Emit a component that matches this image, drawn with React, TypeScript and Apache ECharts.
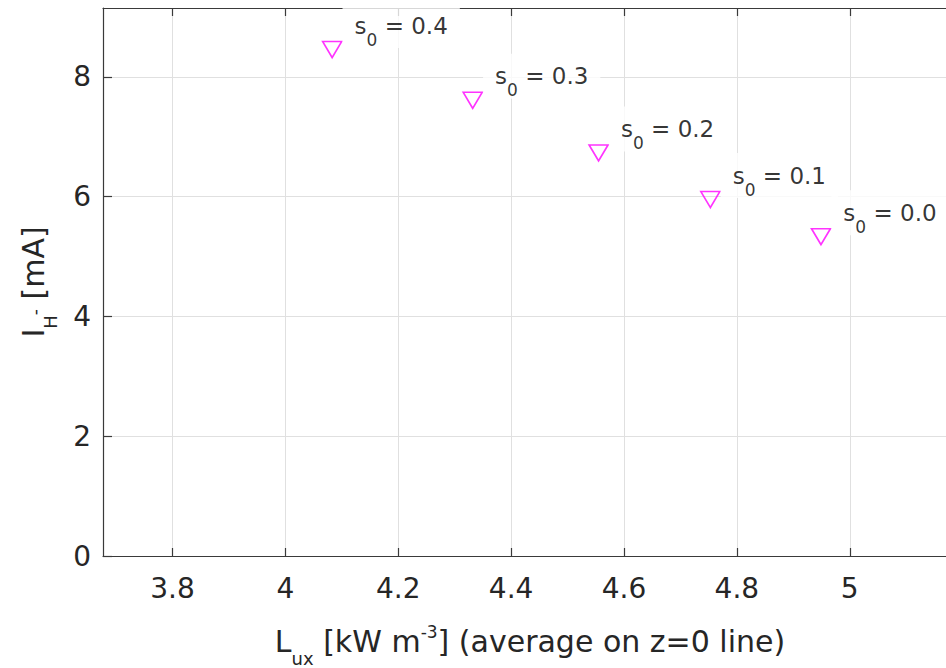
import React, { useEffect, useRef } from "react";
import * as echarts from "echarts";

const xValues = [4.083, 4.332, 4.555, 4.753, 4.949];
const yValues = [8.456, 7.608, 6.73, 5.952, 5.332];
const pointLabels = ["0.4", "0.3", "0.2", "0.1", "0.0"];
const xTicks = [3.8, 4, 4.2, 4.4, 4.6, 4.8, 5];
const yTicks = [0, 2, 4, 6, 8];
const X_MIN = 3.677;
const X_MAX = 5.19;
const Y_MIN = 0;
const Y_MAX = 9.15;

const FONT = "DejaVu Sans";
const TXT = "#262626";

export default function App() {
  const ref = useRef<HTMLDivElement>(null);
  useEffect(() => {
    document.body.style.margin = "0";
    document.body.style.overflow = "hidden";
    const chart = echarts.init(ref.current!, null, { renderer: "svg" });
    const data = xValues.map((x, i) => [x, yValues[i], pointLabels[i]]);
    const labelRich = {
      s: { fontSize: 23, fontFamily: FONT, color: "#000" },
      sub: { fontSize: 17, fontFamily: FONT, color: "#000", padding: [28, 0, 0, 0] },
    };
    const axisLineStyle = { color: "#3a3a3a", width: 1.2 };
    const option: any = {
      animation: false,
      backgroundColor: "#fff",
      grid: {
        left: 103,
        top: 8,
        bottom: 112,
        right: -11,
        containLabel: false,
        outerBoundsMode: "none",
      },
      xAxis: [
        {
          type: "value",
          min: X_MIN,
          max: X_MAX,
          position: "bottom",
          axisLine: { show: true, onZero: false, lineStyle: axisLineStyle },
          axisTick: { show: true, inside: true, length: 8, customValues: xTicks, lineStyle: axisLineStyle },
          axisLabel: {
            customValues: xTicks,
            fontFamily: FONT,
            fontSize: 28,
            color: TXT,
            margin: 18,
          },
          splitLine: { show: true, lineStyle: { color: "#e0e0e0", width: 1 } },
          name: "{m|L}{sub|ux}{m| [kW m}{sup|-3}{m|] (average on z=0 line)}",
          nameLocation: "middle",
          nameGap: 59,
          nameTextStyle: {
            rich: {
              m: { fontSize: 30, fontFamily: FONT, color: TXT },
              sub: { fontSize: 18, fontFamily: FONT, color: TXT, padding: [34, 0, 0, 0] },
              sup: { fontSize: 17, fontFamily: FONT, color: TXT, padding: [0, 0, 18, 0] },
            },
          },
        },
        {
          type: "value",
          min: X_MIN,
          max: X_MAX,
          position: "top",
          axisLine: { show: true, onZero: false, lineStyle: axisLineStyle },
          axisTick: { show: true, inside: true, length: 8, customValues: xTicks, lineStyle: axisLineStyle },
          axisLabel: { show: false },
          splitLine: { show: false },
        },
      ],
      yAxis: {
        type: "value",
        min: Y_MIN,
        max: Y_MAX,
        axisLine: { show: true, onZero: false, lineStyle: axisLineStyle },
        axisTick: { show: true, inside: true, length: 9, customValues: yTicks, lineStyle: axisLineStyle },
        axisLabel: {
          customValues: yTicks,
          fontFamily: FONT,
          fontSize: 28,
          color: TXT,
          margin: 12,
        },
        splitLine: { show: true, lineStyle: { color: "#e0e0e0", width: 1 } },
        name: "{m|I}{sub|H}{sup|-}{m| [mA]}",
        nameLocation: "middle",
        nameRotate: 90,
        nameGap: 44,
        nameTextStyle: {
          rich: {
            m: { fontSize: 30, fontFamily: FONT, color: TXT },
            sub: { fontSize: 18, fontFamily: FONT, color: TXT, padding: [34, 0, 0, 0] },
            sup: { fontSize: 17, fontFamily: FONT, color: TXT, padding: [3, 0, 0, 0] },
          },
        },
      },
      series: [
        {
          type: "scatter",
          xAxisIndex: 0,
          data,
          symbol: "triangle",
          symbolRotate: 180,
          symbolSize: [19, 16],
          itemStyle: { color: "rgba(0,0,0,0)", borderColor: "#ff00ff", borderWidth: 1.6 },
          z: 5,
          label: {
            show: true,
            position: "right",
            distance: 0,
            offset: [0, -24],
            backgroundColor: "#fff",
            padding: [0, 12, 0, 12],
            formatter: (p: any) => `{s|s}{sub|0}{s| = ${p.data[2]}}`,
            rich: labelRich,
          },
          emphasis: { disabled: true },
        },
      ],
    };
    chart.setOption(option);
    return () => chart.dispose();
  }, []);
  return <div ref={ref} style={{ width: 946, height: 668 }} />;
}
